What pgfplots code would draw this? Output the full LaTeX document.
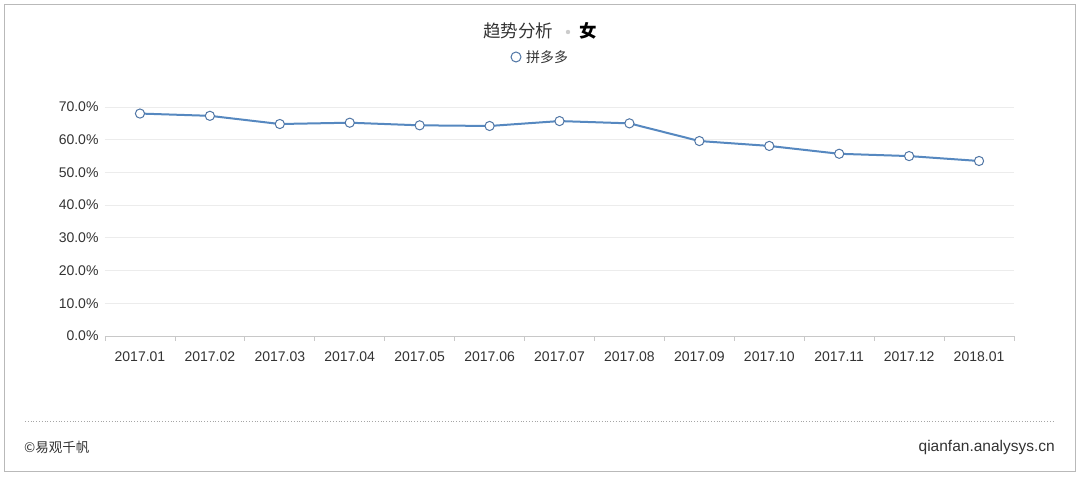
\documentclass[border=0pt]{standalone}
\usepackage{fontspec}
\setmainfont{Liberation Sans}
\newfontfamily\cjk{Noto Sans CJK SC}
\usepackage{pgfplots}
\pgfplotsset{compat=1.18}
\definecolor{lineblue}{RGB}{86,136,192}
\definecolor{markedge}{RGB}{80,118,165}
\definecolor{gridc}{RGB}{236,236,236}
\definecolor{axc}{RGB}{200,200,200}
\definecolor{txt}{RGB}{51,51,51}
\begin{document}
\begin{tikzpicture}
\path[fill=white] (0pt,0pt) rectangle (1080pt,477pt);
\draw[color=gray!55, line width=1pt] (4.5pt,5pt) rectangle (1075.5pt,472.5pt);
\begin{axis}[
  at={(105pt,141pt)}, anchor=south west,
  scale only axis, width=909pt, height=229pt,
  xmin=-0.5, xmax=12.5, ymin=0, ymax=70,
  axis x line*=bottom, axis y line*=left,
  x axis line style={draw=axc, line width=0.8pt, -},
  y axis line style={draw=none},
  xtick={0,...,12},
  xticklabels={2017.01,2017.02,2017.03,2017.04,2017.05,2017.06,2017.07,2017.08,2017.09,2017.10,2017.11,2017.12,2018.01},
  xtick style={draw=none},
  extra x ticks={-0.5,0.5,...,12.5},
  extra x tick labels={},
  extra x tick style={tick align=outside, major tick length=5pt, xtick style={draw=axc, line width=0.8pt}, grid=none},
  ytick={0,10,...,70},
  ytick style={draw=none},
  ymajorgrids, grid style={draw=gridc, line width=0.8pt},
  yticklabel={\pgfmathprintnumber[fixed,fixed zerofill,precision=1]{\tick}\%},
  /pgf/number format/assume math mode=true,
  ticklabel style={font=\fontsize{14}{16}\selectfont, text=txt},
  xticklabel style={yshift=-12pt},
  yticklabel style={xshift=-3pt},
  clip=false,
]
\addplot[color=lineblue, line width=2pt, mark=*, mark size=4.6pt,
  mark options={fill=white, draw=markedge, line width=1pt}]
  coordinates {(0,68.0) (1,67.3) (2,64.8) (3,65.2) (4,64.4) (5,64.2) (6,65.7) (7,65.0) (8,59.6) (9,58.1) (10,55.7) (11,55.0) (12,53.5)};
\end{axis}
\node[anchor=base east, text=txt, font=\cjk\fontsize{17.5}{20}\selectfont] at (557pt,439pt) {趋势分析};
\fill[gray!40] (568pt,445pt) circle (2.2pt);
\node[anchor=base west, text=black, font=\cjk\bfseries\fontsize{17.5}{20}\selectfont] at (576pt,439pt) {女};
\draw[color=markedge, fill=white, line width=1pt] (516pt,420pt) circle (5pt);
\node[anchor=west, text=txt, font=\cjk\fontsize{14}{16}\selectfont, inner sep=0pt] at (526pt,420pt) {拼多多};
\draw[color=gray!70, line width=0.8pt, dotted] (25pt,56pt) -- (1055pt,56pt);
\node[anchor=west, text=txt, font=\cjk\fontsize{13.5}{15}\selectfont, inner sep=0pt] at (24pt,30pt) {©易观千帆};
\node[anchor=east, text=txt, font=\fontsize{15.5}{18}\selectfont, inner sep=0pt] at (1055pt,30pt) {qianfan.analysys.cn};
\end{tikzpicture}
\end{document}
